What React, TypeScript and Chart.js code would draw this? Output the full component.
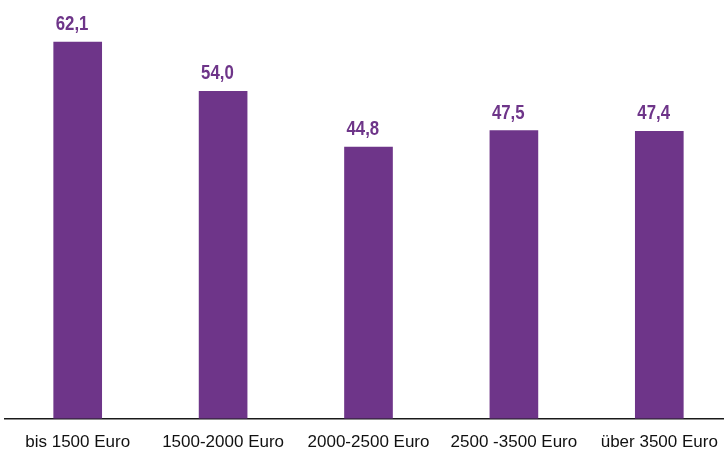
import React, { useEffect, useRef } from "react";
import { Chart, registerables } from "chart.js";

Chart.register(...registerables);

const categories = ["bis 1500 Euro", "1500-2000 Euro", "2000-2500 Euro", "2500 -3500 Euro", "über 3500 Euro"];
const values = [62.1, 54.0, 44.8, 47.5, 47.4];
const valueLabels = ["62,1", "54,0", "44,8", "47,5", "47,4"];

const PURPLE = "#6E3589";

const labelPlugin = {
  id: "valueLabels",
  afterDatasetsDraw(chart: any) {
    const ctx = chart.ctx;
    const meta = chart.getDatasetMeta(0);
    const sx = 0.8;
    meta.data.forEach((bar: any, i: number) => {
      const left = bar.x - bar.width / 2 + 2;
      ctx.save();
      ctx.font = "bold 21px 'Liberation Sans', Arial, sans-serif";
      ctx.fillStyle = PURPLE;
      ctx.textAlign = "left";
      ctx.textBaseline = "alphabetic";
      ctx.translate(left, bar.y - 12);
      ctx.scale(sx, 1);
      ctx.fillText(valueLabels[i], 0, 0);
      ctx.restore();
    });
  },
};

export default function App() {
  const ref = useRef<HTMLCanvasElement>(null);
  useEffect(() => {
    if (!ref.current) return;
    const chart = new Chart(ref.current, {
      type: "bar",
      data: {
        labels: categories,
        datasets: [
          {
            data: values,
            backgroundColor: PURPLE,
            borderWidth: 0,
            barThickness: 48,
          },
        ],
      },
      options: {
        responsive: false,
        animation: false,
        layout: { padding: { left: 5, right: 8, top: 4, bottom: 4 } },
        plugins: { legend: { display: false }, tooltip: { enabled: false } },
        scales: {
          x: {
            grid: { display: false, drawTicks: false },
            border: { display: true, color: "#1a1a1a", width: 1.5 },
            ticks: {
              color: "#111",
              padding: 14,
              maxRotation: 0,
              autoSkip: false,
              font: { family: "'Liberation Sans', Arial, sans-serif", size: 17 },
            },
          },
          y: {
            display: false,
            min: 0,
            max: 68.4,
          },
        },
      },
      plugins: [labelPlugin],
    });
    return () => chart.destroy();
  }, []);
  return (
    <div style={{ position: "absolute", left: 0, top: 0, width: 724, height: 455, overflow: "hidden", background: "#fff" }}>
      <canvas ref={ref} width={740} height={471} style={{ width: 740, height: 471, display: "block" }} />
    </div>
  );
}
